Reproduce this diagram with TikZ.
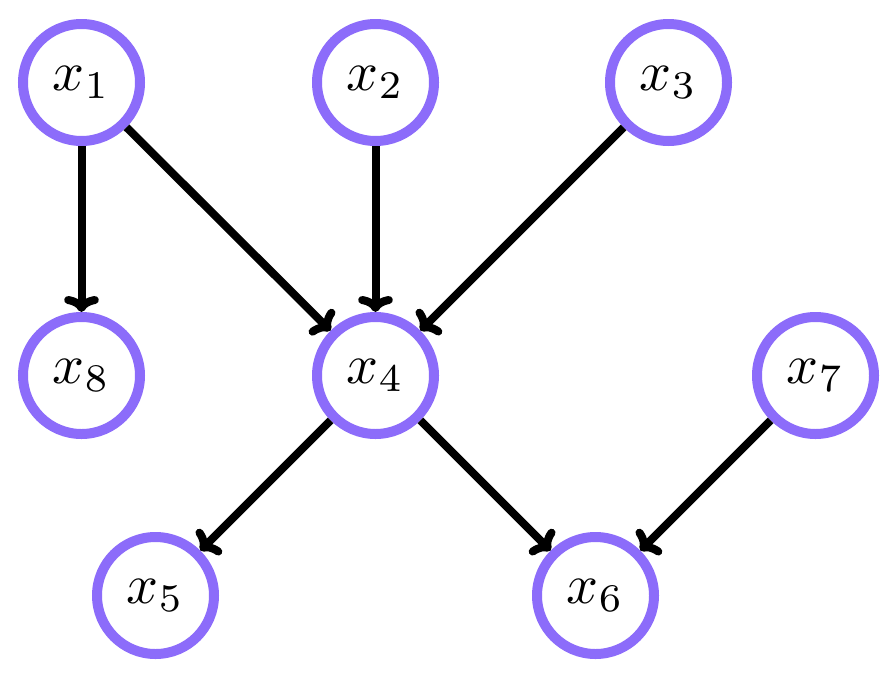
\documentclass[tikz,border=0pt]{standalone}
\usepackage{graphicx}
\usetikzlibrary{arrows.meta}
\definecolor{nodepurple}{RGB}{140,108,250}
\newcommand{\bigvar}[1]{\scalebox{4.2}{$x_{#1}$}}
\begin{document}
\begin{tikzpicture}[x=0.75pt,y=-0.75pt,
  varnode/.style={circle,draw=nodepurple,line width=7.5pt,minimum size=87.75pt,inner sep=0pt,fill=white},
  edgearrow/.style={-{To[length=12pt,width=26pt,round]},line width=6pt,black}]
\useasboundingbox (0,0) rectangle (888,682);
\node[varnode] (x1) at (81.5,82.5) {\bigvar{1}};
\node[varnode] (x2) at (375.5,82.5) {\bigvar{2}};
\node[varnode] (x3) at (668.5,82.5) {\bigvar{3}};
\node[varnode] (x8) at (81.5,375.5) {\bigvar{8}};
\node[varnode] (x4) at (375.5,375.5) {\bigvar{4}};
\node[varnode] (x7) at (815.5,375.5) {\bigvar{7}};
\node[varnode] (x5) at (155.5,595.5) {\bigvar{5}};
\node[varnode] (x6) at (595.5,595.5) {\bigvar{6}};
\draw[edgearrow] (x1) -- (x8);
\draw[edgearrow] (x1) -- (x4);
\draw[edgearrow] (x2) -- (x4);
\draw[edgearrow] (x3) -- (x4);
\draw[edgearrow] (x4) -- (x5);
\draw[edgearrow] (x4) -- (x6);
\draw[edgearrow] (x7) -- (x6);
\end{tikzpicture}
\end{document}
